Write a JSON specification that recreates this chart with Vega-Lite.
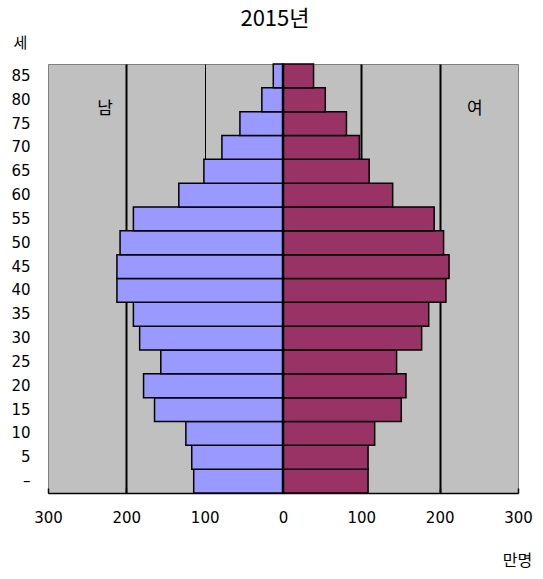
{
  "$schema": "https://vega.github.io/schema/vega-lite/v6.json",
  "autosize": "none",
  "padding": {"left": 48, "top": 64, "right": 25, "bottom": 86},
  "width": 470,
  "height": 429,
  "background": "white",
  "title": {
    "text": "2015년",
    "font": "Noto Sans CJK KR",
    "fontSize": 22,
    "fontWeight": "normal",
    "color": "black",
    "frame": "group",
    "anchor": "middle",
    "offset": 4,
    "dx": -8
  },
  "config": {
    "font": "DejaVu Sans",
    "view": {"fill": "#C0C0C0", "stroke": "#808080", "strokeWidth": 1}
  },
  "datasets": {
    "pop": [
      {"age": 0, "sex": "남", "pop": -114}, {"age": 0, "sex": "여", "pop": 108.6},
      {"age": 5, "sex": "남", "pop": -116.5}, {"age": 5, "sex": "여", "pop": 108.6},
      {"age": 10, "sex": "남", "pop": -124}, {"age": 10, "sex": "여", "pop": 117},
      {"age": 15, "sex": "남", "pop": -164}, {"age": 15, "sex": "여", "pop": 151},
      {"age": 20, "sex": "남", "pop": -178}, {"age": 20, "sex": "여", "pop": 157},
      {"age": 25, "sex": "남", "pop": -156}, {"age": 25, "sex": "여", "pop": 145},
      {"age": 30, "sex": "남", "pop": -183}, {"age": 30, "sex": "여", "pop": 177},
      {"age": 35, "sex": "남", "pop": -191}, {"age": 35, "sex": "여", "pop": 186},
      {"age": 40, "sex": "남", "pop": -212}, {"age": 40, "sex": "여", "pop": 208},
      {"age": 45, "sex": "남", "pop": -212}, {"age": 45, "sex": "여", "pop": 212},
      {"age": 50, "sex": "남", "pop": -208}, {"age": 50, "sex": "여", "pop": 205},
      {"age": 55, "sex": "남", "pop": -191}, {"age": 55, "sex": "여", "pop": 193},
      {"age": 60, "sex": "남", "pop": -133}, {"age": 60, "sex": "여", "pop": 140},
      {"age": 65, "sex": "남", "pop": -101}, {"age": 65, "sex": "여", "pop": 110},
      {"age": 70, "sex": "남", "pop": -78}, {"age": 70, "sex": "여", "pop": 97.5},
      {"age": 75, "sex": "남", "pop": -55}, {"age": 75, "sex": "여", "pop": 81},
      {"age": 80, "sex": "남", "pop": -27}, {"age": 80, "sex": "여", "pop": 54},
      {"age": 85, "sex": "남", "pop": -12.4}, {"age": 85, "sex": "여", "pop": 39}
    ],
    "labels": [
      {"age": 80, "label": "남", "pos": -227},
      {"age": 80, "label": "여", "pos": 245}
    ]
  },
  "layer": [
    {
      "data": {"name": "pop"},
      "mark": {"type": "bar", "stroke": "black", "strokeWidth": 1.5},
      "encoding": {
        "y": {
          "field": "age",
          "type": "ordinal",
          "sort": "descending",
          "scale": {"paddingInner": 0, "paddingOuter": 0},
          "axis": {
            "title": "세",
            "titleAngle": 0,
            "titleX": -28,
            "titleY": -22,
            "titleFont": "Noto Sans CJK KR",
            "titleFontSize": 15,
            "titleFontWeight": "normal",
            "titleColor": "black",
            "titleAlign": "center",
            "titleBaseline": "middle",
            "labelFontSize": 15,
            "labelColor": "black",
            "labelPadding": 18,
            "ticks": false,
            "domain": false,
            "labelExpr": "datum.value == 0 ? '–' : datum.label"
          }
        },
        "x": {
          "field": "pop",
          "type": "quantitative",
          "scale": {"domain": [-300, 300], "nice": false},
          "axis": {
            "values": [-300, -200, -100, 0, 100, 200, 300],
            "labelExpr": "'' + abs(datum.value)",
            "labelFlush": false,
            "labelFontSize": 15,
            "labelColor": "black",
            "labelPadding": 22,
            "title": "만명",
            "titleX": 469,
            "titleY": 67,
            "titleFont": "Noto Sans CJK KR",
            "titleFontSize": 16,
            "titleFontWeight": "normal",
            "titleColor": "black",
            "titleAlign": "center",
            "titleBaseline": "middle",
            "domainColor": "black",
            "domainWidth": 1.5,
            "tickColor": "black",
            "tickSize": -5,
            "tickWidth": 1.5,
            "grid": true,
            "gridColor": "black",
            "gridWidth": {"condition": {"test": "datum.value === -100", "value": 1}, "value": 2},
            "gridOpacity": {"condition": {"test": "datum.value === 0 || abs(datum.value) === 300", "value": 0}, "value": 1}
          }
        },
        "color": {
          "field": "sex",
          "type": "nominal",
          "scale": {"domain": ["남", "여"], "range": ["#9999FF", "#993366"]},
          "legend": null
        }
      }
    },
    {
      "data": {"values": [{"zero": 0}]},
      "mark": {"type": "rule", "color": "black", "strokeWidth": 2.5},
      "encoding": {"x": {"field": "zero", "type": "quantitative"}}
    },
    {
      "data": {"name": "labels"},
      "mark": {"type": "text", "font": "Noto Sans CJK KR", "fontSize": 17, "color": "black", "dy": 9},
      "encoding": {
        "x": {"field": "pos", "type": "quantitative"},
        "y": {"field": "age", "type": "ordinal", "sort": "descending"},
        "text": {"field": "label"}
      }
    }
  ]
}
